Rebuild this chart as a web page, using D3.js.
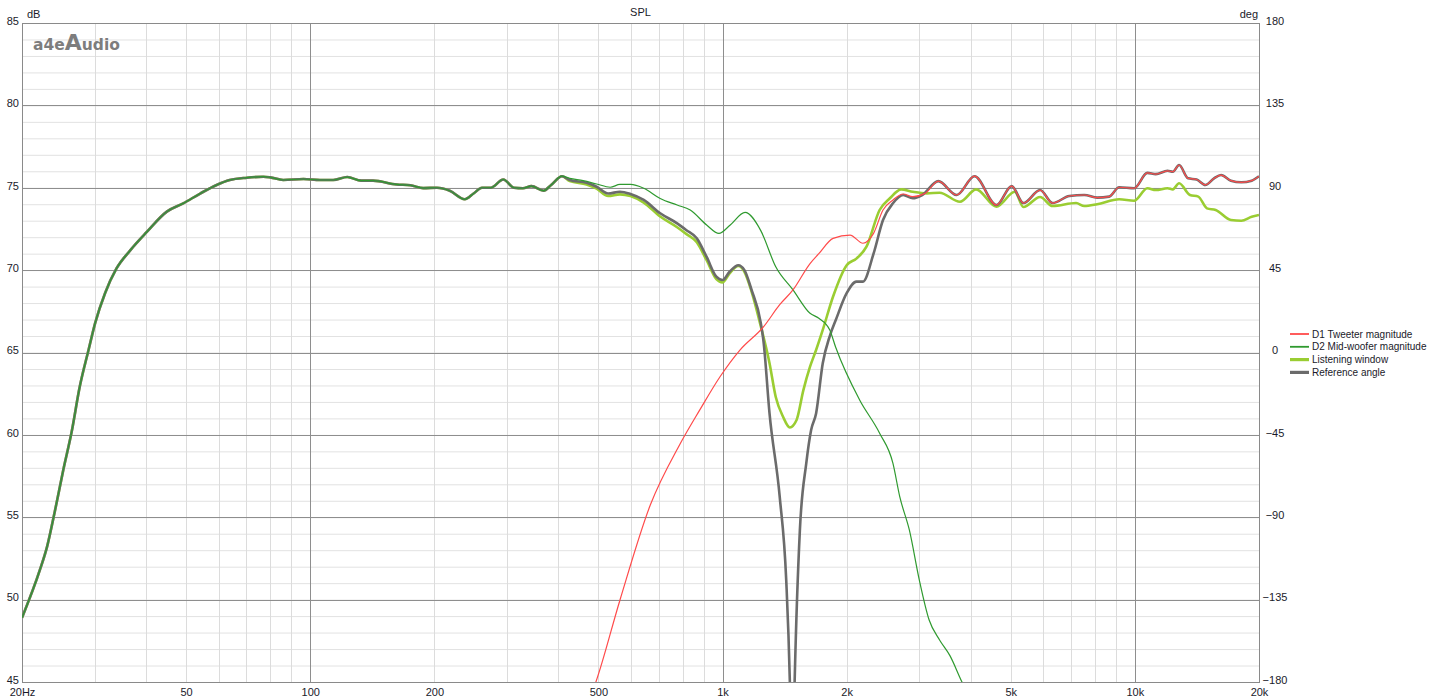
<!DOCTYPE html>
<html>
<head>
<meta charset="utf-8">
<script src="https://cdn.jsdelivr.net/npm/d3@7"></script>
<style>
  body { margin: 0; background: #fff; }
  text { font-family: "Liberation Sans", Arial, sans-serif; }
</style>
</head>
<body>
<div id="chart"></div>
<script>
var margin = {top: 23, right: 188, bottom: 18, left: 22},
    width = 1447 - margin.left - margin.right,
    height = 700 - margin.top - margin.bottom;

// shared bass part (all woofer-driven curves coincide below ~400 Hz)
var bassHz = [20, 22.1, 23, 24, 25.2, 26.4, 27.6, 29, 30.1, 31.8, 33.9, 36.6, 40.1, 44.9, 49.2, 54.1, 59.3, 63.8,
    70.2, 77, 80, 86, 96.3, 105.6, 113.7, 123, 133, 142, 162, 175, 188, 203, 218, 237, 249, 261, 274, 294, 312,
    328, 344, 368, 384, 408];
var bassDb = [48.9, 51.8, 53.2, 55.3, 57.9, 60.2, 62.9, 65.15, 66.8, 68.6, 70.1, 71.2, 72.3, 73.55, 74.05, 74.65, 75.17, 75.47,
    75.61, 75.67, 75.63, 75.47, 75.53, 75.47, 75.47, 75.65, 75.43, 75.43, 75.2, 75.15, 74.98, 75.0, 74.82, 74.3, 74.65, 75.0, 75.0, 75.5, 75.0,
    74.97, 75.1, 74.82, 75.17, 75.7];

// shared treble part (tweeter and reference angle coincide above ~3.3 kHz)
var trebleHz = [3336, 3696, 4084, 4616, 5026, 5366, 5890, 6316, 6936, 7540, 8100, 8660, 9160, 9960, 10720, 11240,
    12000, 12360, 12800, 13460, 14120, 14820, 15560, 16180, 17100, 18120, 19200, 20000];
var trebleDb = [75.4, 74.56, 75.7, 73.95, 75.1, 74.07, 74.86, 74.07, 74.5, 74.56, 74.4, 74.46, 75.03, 74.97, 75.9, 75.83,
    76.03, 75.97, 76.38, 75.57, 75.5, 75.17, 75.57, 75.77, 75.43, 75.33, 75.43, 75.7];

var tweeterHz = [450, 493, 564, 668, 787, 880, 986, 1102, 1258, 1376, 1482, 1630, 1712, 1854, 2038, 2190, 2324, 2450,
    2590, 2742, 2892, 3100];
var tweeterDb = [42.5, 45, 49.98, 55.74, 59.4, 61.5, 63.53, 65.15, 66.57, 67.9, 68.8, 70.4, 71.0, 71.93, 72.13, 71.63, 72.23, 73.65,
    74.26, 74.62, 74.46, 74.66];

var wooferHz = [426, 459, 495, 534, 564, 598, 644, 706, 776, 835, 915, 980, 1044, 1134, 1238, 1346, 1482, 1630, 1712,
    1820, 1882, 2152, 2404, 2590, 2690, 2840, 3000, 3170, 3360, 3560, 3808, 4100];
var wooferDb = [75.57, 75.43, 75.23, 75.03, 75.2, 75.2, 74.97, 74.35, 73.95, 73.65, 72.74, 72.23, 72.74, 73.5, 72.4, 70.2, 68.8, 67.38, 67.08,
    66.37, 65.3, 62.1, 60.1, 58.27, 56.25, 54.2, 51.2, 48.76, 47.55, 46.6, 45.0, 43.5];

var windowHz = [426, 468, 495, 528, 564, 598, 644, 706, 776, 816, 866, 915, 966, 1000, 1040, 1092, 1130, 1176, 1238,
    1300, 1346, 1402, 1456, 1512, 1570, 1630, 1686, 1750, 1854, 2000, 2112, 2234, 2404, 2546, 2712, 2892, 3130,
    3360, 3766, 4120, 4616, 5114, 5366, 5890, 6316, 7200, 7540, 8100, 9160, 9960, 10720, 11240, 12000, 12360,
    12800, 13600, 14250, 14960, 15700, 17100, 18120, 19200, 20000];
var windowDb = [75.4, 75.2, 74.95, 74.5, 74.6, 74.5, 74.1, 73.25, 72.6, 72.2, 71.7, 70.6, 69.45, 69.25, 69.8, 70.25, 69.9, 68.7, 66.6,
    64.35, 62.3, 61.1, 60.45, 60.9, 62.7, 64.14, 65.15, 66.37, 68.4, 70.3, 70.7, 71.42, 73.65, 74.36, 74.9, 74.76, 74.66,
    74.7, 74.15, 74.9, 73.85, 74.76, 73.83, 74.44, 73.89, 74.07, 73.89, 74.0, 74.3, 74.21, 74.97, 74.86, 74.97, 74.9,
    75.27, 74.56, 74.46, 73.75, 73.65, 73.04, 73.0, 73.24, 73.35];

var referenceHz = [426, 468, 495, 528, 564, 598, 644, 706, 776, 816, 866, 915, 966, 1000, 1040, 1092, 1130, 1176, 1238,
    1258, 1300, 1376, 1427, 1456, 1475, 1496, 1540, 1596, 1640, 1686, 1750, 1820, 1882, 2000, 2112, 2190, 2324,
    2450, 2590, 2742, 2892, 3050];
var referenceDb = [75.47, 75.3, 75.06, 74.65, 74.76, 74.62, 74.26, 73.45, 72.84, 72.44, 71.93, 70.8, 69.6, 69.4, 69.9, 70.3, 70.0, 68.8, 66.8,
    65.6, 61.3, 56.25, 51.2, 45.1, 38, 45.1, 54.2, 58.27, 60.3, 61.3, 64.35, 66.0, 66.97, 68.6, 69.3, 69.3, 71.0,
    73.04, 74.06, 74.56, 74.36, 74.56];

var freqTicks = [20, 50, 100, 200, 500, 1000, 2000, 5000, 10000, 20000];
var freqLabels = ['20Hz', '50', '100', '200', '500', '1k', '2k', '5k', '10k', '20k'];
var dbTicks = [85, 80, 75, 70, 65, 60, 55, 50, 45];
var degTicks = [180, 135, 90, 45, 0, -45, -90, -135, -180];
var majorHz = [100, 1000, 10000];

function zipPts(hz, db) {
    return hz.map((f, i) => ({f: f, v: db[i]}));
}

var series = [
    {name: 'Listening window', color: '#9acd32', w: 2.6, pts: zipPts(bassHz, bassDb).concat(zipPts(windowHz, windowDb))},
    {name: 'Reference angle', color: '#6b6b6b', w: 2.6, pts: zipPts(bassHz, bassDb).concat(zipPts(referenceHz, referenceDb), zipPts(trebleHz, trebleDb))},
    {name: 'D2 Mid-woofer magnitude', color: '#2f9a2f', w: 1.2, pts: zipPts(bassHz, bassDb).concat(zipPts(wooferHz, wooferDb))},
    {name: 'D1 Tweeter magnitude', color: '#ff4a4a', w: 1.2, pts: zipPts(tweeterHz, tweeterDb).concat(zipPts(trebleHz, trebleDb))}
];
var legendOrder = ['D1 Tweeter magnitude', 'D2 Mid-woofer magnitude', 'Listening window', 'Reference angle'];

var x = d3.scaleLog().domain([20, 20000]).range([0, width]);
var y = d3.scaleLinear().domain([45, 85]).range([height, 0]);
var yDeg = d3.scaleLinear().domain([-180, 180]).range([height, 0]);

var svg = d3.select('#chart').append('svg')
    .attr('width', 1447)
    .attr('height', 700);

var plot = svg.append('g')
    .attr('transform', `translate(${margin.left}, ${margin.top})`);

plot.append('clipPath').attr('id', 'clip')
    .append('rect').attr('width', width).attr('height', height);

// minor grid
plot.append('g').selectAll('line')
    .data(d3.range(45, 86, 1))
    .enter().append('line')
    .attr('x1', 0).attr('x2', width)
    .attr('y1', d => y(d) + 0.5).attr('y2', d => y(d) + 0.5)
    .attr('stroke', '#e2e2e2');

plot.append('g').selectAll('line')
    .data(x.ticks())
    .enter().append('line')
    .attr('x1', d => Math.round(x(d)) + 0.5).attr('x2', d => Math.round(x(d)) + 0.5)
    .attr('y1', 0).attr('y2', height)
    .attr('stroke', '#dcdcdc');

// major grid
plot.append('g').selectAll('line')
    .data(dbTicks)
    .enter().append('line')
    .attr('x1', 0).attr('x2', width)
    .attr('y1', d => Math.round(y(d)) + 0.5).attr('y2', d => Math.round(y(d)) + 0.5)
    .attr('stroke', '#8e8e8e');

plot.append('g').selectAll('line')
    .data(majorHz)
    .enter().append('line')
    .attr('x1', d => Math.round(x(d)) + 0.5).attr('x2', d => Math.round(x(d)) + 0.5)
    .attr('y1', 0).attr('y2', height)
    .attr('stroke', '#8e8e8e');

plot.append('rect')
    .attr('x', 0.5).attr('y', 0.5)
    .attr('width', width).attr('height', height)
    .attr('fill', 'none').attr('stroke', '#8a8a8a');

// logo
var logo = plot.append('text')
    .attr('x', 11).attr('y', 27)
    .attr('fill', '#7d7d7d')
    .style('font-family', '"DejaVu Sans", sans-serif')
    .style('font-weight', 'bold')
    .style('font-size', '15.5px');
logo.append('tspan').text('a4e');
logo.append('tspan').style('font-size', '22px').text('A');
logo.append('tspan').text('udio');

// curves
var line = d3.line()
    .x(d => x(d.f))
    .y(d => y(d.v))
    .curve(d3.curveMonotoneX);

plot.append('g').attr('clip-path', 'url(#clip)')
    .selectAll('path')
    .data(series)
    .enter().append('path')
    .attr('fill', 'none')
    .attr('stroke', d => d.color)
    .attr('stroke-width', d => d.w)
    .attr('stroke-linejoin', 'round')
    .attr('d', d => line(d.pts));

// axes (labels only)
var yAxis = d3.axisLeft(y).tickValues(dbTicks).tickSize(0).tickPadding(3);
var gy = plot.append('g').call(yAxis);
gy.select('.domain').remove();
gy.selectAll('text').attr('dy', '0.12em');

var degAxis = d3.axisRight(yDeg).tickValues(degTicks).tickSize(0).tickPadding(0);
var gd = plot.append('g').attr('transform', `translate(${width}, 0)`).call(degAxis);
gd.select('.domain').remove();
gd.selectAll('text').attr('x', 16).attr('dy', '0.12em').style('text-anchor', 'middle');

var xAxis = d3.axisBottom(x).tickValues(freqTicks).tickSize(0).tickPadding(6)
    .tickFormat((d, i) => freqLabels[i]);
var gx = plot.append('g').attr('transform', `translate(0, ${height})`).call(xAxis);
gx.select('.domain').remove();

plot.selectAll('.tick text')
    .style('font-family', '"Liberation Sans", Arial, sans-serif')
    .style('font-size', '11px')
    .attr('fill', '#1a1a2a');

// titles
plot.append('text').attr('x', 5).attr('y', -5)
    .style('font-size', '11px').attr('fill', '#1a1a2a').text('dB');
plot.append('text').attr('x', width - 1).attr('y', -5)
    .style('font-size', '11px').style('text-anchor', 'end').attr('fill', '#1a1a2a').text('deg');
plot.append('text').attr('x', width / 2).attr('y', -7)
    .style('font-size', '11px').style('text-anchor', 'middle').attr('fill', '#1a1a2a').text('SPL');

// legend
var legend = svg.append('g').attr('transform', 'translate(1290, 334)');
var items = legend.selectAll('g')
    .data(legendOrder.map(n => series.find(s => s.name === n)))
    .enter().append('g')
    .attr('transform', (d, i) => `translate(0, ${i * 12.8})`);
items.append('line')
    .attr('x1', 0).attr('x2', 19)
    .attr('stroke', d => d.color)
    .attr('stroke-width', d => d.w + 0.6);
items.append('text')
    .attr('x', 22).attr('dy', '0.35em')
    .style('font-size', '10px')
    .attr('fill', '#1a1a2a')
    .text(d => d.name);
</script>
</body>
</html>
